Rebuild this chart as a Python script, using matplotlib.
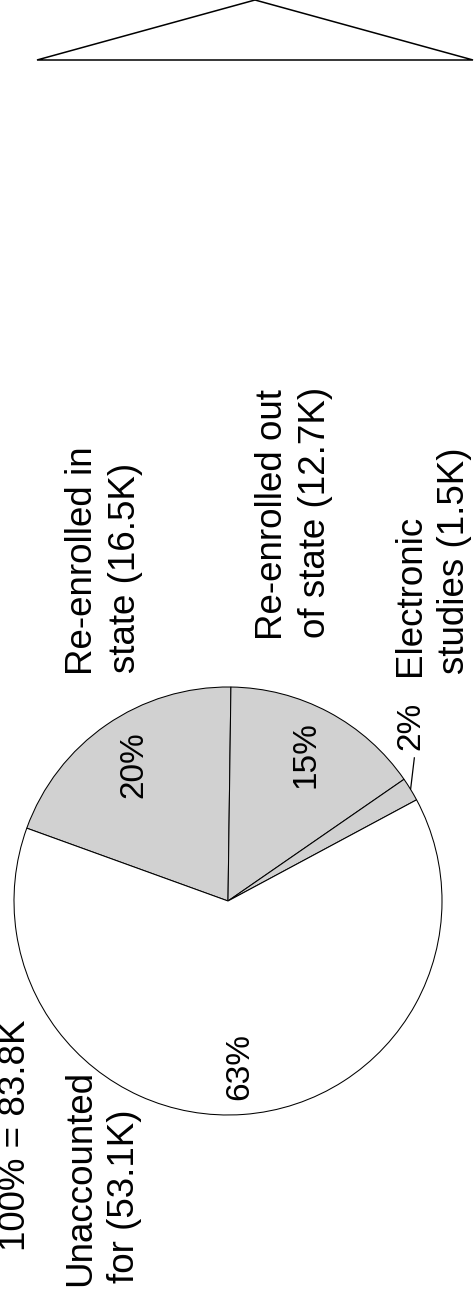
import numpy as np
import matplotlib
matplotlib.use("Agg")
import matplotlib.pyplot as plt
from matplotlib.patches import Polygon

# ---- data ----
categories = ["Re-enrolled in\nstate", "Re-enrolled out\nof state",
              "Electronic\nstudies", "Unaccounted\nfor"]
values_k = [16.5, 12.7, 1.5, 53.1]
total_label = "100% = 83.8K"
slice_colors = ["#d1d1d1", "#d1d1d1", "#d1d1d1", "#ffffff"]

# ---- layout (pixel coordinates, image y measured from top) ----
W, H = 475, 1299
plt.rcParams['font.family'] = ['Liberation Sans', 'DejaVu Sans']


def Y(y):
    return H - y


fig = plt.figure(figsize=(W / 100, H / 100), dpi=100)
ax = fig.add_axes([0, 0, 1, 1])

cx, cy, R = 228, Y(901), 214
wedges, texts, autotexts = ax.pie(
    values_k, colors=slice_colors, startangle=160.1, counterclock=False,
    center=(cx, cy), radius=R, autopct='%.0f%%', pctdistance=0.775,
    wedgeprops=dict(edgecolor='black', linewidth=0.75),
    textprops=dict(rotation=90, fontsize=24, color='black'))

# small slice: label outside with leader line
w = wedges[2]
mid = np.deg2rad((w.theta1 + w.theta2) / 2)
a_end = mid + np.deg2rad(6.2)
ax.plot([cx + R * np.cos(mid), cx + 1.1 * R * np.cos(a_end)],
        [cy + R * np.sin(mid), cy + 1.1 * R * np.sin(a_end)],
        color='black', lw=0.9, solid_capstyle='butt')
a_lab = mid + np.deg2rad(12.3)
autotexts[2].set_position((cx + 1.185 * R * np.cos(a_lab),
                           cy + 1.185 * R * np.sin(a_lab)))

# category labels, one text per line (baseline x, start y)
label_pos = [
    [(92, 675), (135, 673)],
    [(282, 640), (325, 638)],
    [(420, 676), (464, 674)],
    [(90, 1286), (134, 1283)],
]
for name, val, pos in zip(categories, values_k, label_pos):
    lines = name.split("\n")
    lines[-1] = f"{lines[-1]} ({val}K)"
    for line, (bx, sy) in zip(lines, pos):
        ax.text(bx, Y(sy), line, rotation=90, rotation_mode='anchor',
                ha='left', va='baseline', fontsize=26.5, color='black')

ax.text(25, Y(1251), total_label, rotation=90, rotation_mode='anchor',
        ha='left', va='baseline', fontsize=26.5, color='black')

# decorative triangle at top
tri = Polygon([(37, Y(60)), (255, Y(0)), (473, Y(60))], closed=True,
              fill=False, edgecolor='black', lw=1.1, joinstyle='miter')
ax.add_patch(tri)

ax.set_xlim(0, W)
ax.set_ylim(0, H)
ax.set_aspect('equal')
ax.axis('off')

fig.savefig("out.png", dpi=100, facecolor='white')
